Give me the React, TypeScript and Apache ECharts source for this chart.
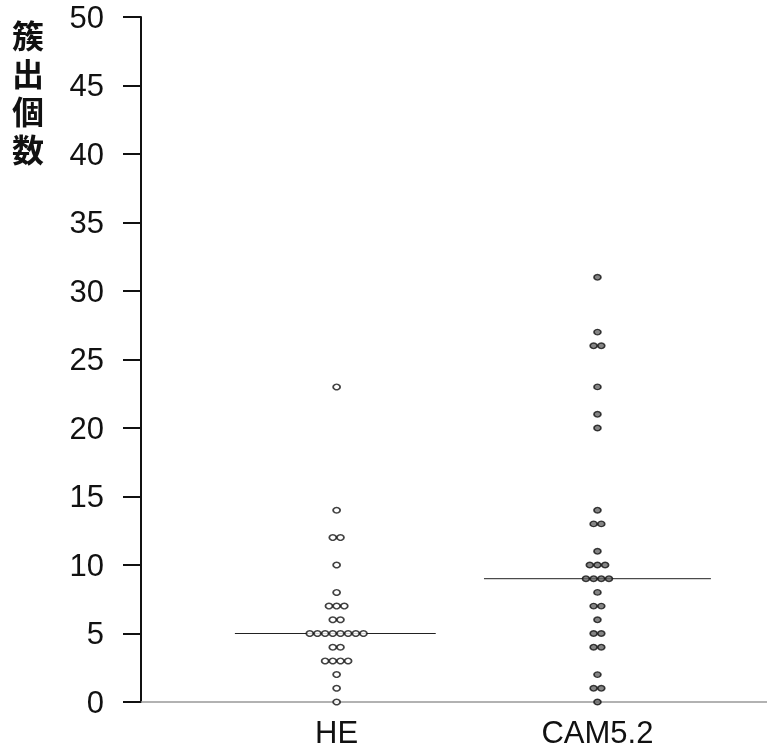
import React, { useEffect, useRef } from "react";
import * as echarts from "echarts";

const groupNames = ["HE", "CAM5.2"];
const heValues = [23, 14, 12, 12, 10, 8, 7, 7, 7, 6, 6, 5, 5, 5, 5, 5, 5, 5, 5, 4, 4, 3, 3, 3, 3, 2, 1, 0];
const camValues = [31, 27, 26, 26, 23, 21, 20, 14, 13, 13, 11, 10, 10, 10, 9, 9, 9, 9, 8, 7, 7, 6, 5, 5, 4, 4, 2, 1, 1, 0];
const yTicks = { min: 0, max: 50, interval: 5 };
const yTitleChars = ["簇", "出", "個", "数"];

function swarm(values: number[], center: number, step: number) {
  const counts: Record<number, number> = {};
  values.forEach((v) => (counts[v] = (counts[v] || 0) + 1));
  const pts: number[][] = [];
  Object.keys(counts).forEach((k) => {
    const v = Number(k);
    const n = counts[v];
    for (let i = 0; i < n; i++) pts.push([center + (i - (n - 1) / 2) * step, v]);
  });
  return pts;
}

function median(values: number[]) {
  const s = [...values].sort((a, b) => a - b);
  const m = Math.floor(s.length / 2);
  return s.length % 2 ? s[m] : (s[m - 1] + s[m]) / 2;
}

export default function App() {
  const ref = useRef<HTMLDivElement>(null);
  useEffect(() => {
    if (!ref.current) return;
    const chart = echarts.init(ref.current, null, { renderer: "svg" });
    const step = 0.0294;
    const heMed = median(heValues);
    const camMed = median(camValues);
    chart.setOption({
      animation: false,
      grid: { left: 141, right: 0, top: 17, bottom: 49, outerBoundsMode: "none" },
      xAxis: {
        type: "value",
        min: 0.25,
        max: 2.65,
        interval: 0.25,
        splitLine: { show: false },
        axisTick: { show: false },
        axisLine: { onZero: false, lineStyle: { color: "#999", width: 1.5 } },
        axisLabel: {
          margin: 15,
          fontSize: 31,
          color: "#111",
          fontFamily: "Liberation Sans, Arial, sans-serif",
          showMinLabel: true,
          showMaxLabel: false,
          formatter: (v: number) =>
            Math.abs(v - 1) < 1e-6 ? groupNames[0] : Math.abs(v - 2) < 1e-6 ? groupNames[1] : "",
        },
      },
      yAxis: {
        type: "value",
        min: yTicks.min,
        max: yTicks.max,
        interval: yTicks.interval,
        splitLine: { show: false },
        axisLine: { show: true, lineStyle: { color: "#111", width: 2 } },
        axisTick: { show: true, length: 18, lineStyle: { color: "#111", width: 2 } },
        axisLabel: {
          margin: 37,
          fontSize: 31,
          color: "#111",
          fontFamily: "Liberation Sans, Arial, sans-serif",
        },
      },
      graphic: yTitleChars.map((c, i) => ({
        type: "text",
        left: 12,
        top: 17 + i * 38,
        style: {
          text: c,
          font: "bold 32px 'Noto Sans CJK JP'",
          lineHeight: 34,
          fill: "#111",
        },
      })),
      series: [
        {
          type: "line",
          data: [[1 - 0.39, heMed], [1 + 0.38, heMed]],
          symbol: "none",
          lineStyle: { color: "#222", width: 1 },
          z: 1,
        },
        {
          type: "line",
          data: [[2 - 0.435, camMed], [2 + 0.435, camMed]],
          symbol: "none",
          lineStyle: { color: "#222", width: 1 },
          z: 1,
        },
        {
          type: "scatter",
          data: swarm(heValues, 1, step),
          symbol: "circle",
          symbolSize: [7, 5.5],
          itemStyle: { color: "#fff", borderColor: "#111", borderWidth: 1.6 },
          z: 3,
        },
        {
          type: "scatter",
          data: swarm(camValues, 2, step),
          symbol: "circle",
          symbolSize: [7, 5.5],
          itemStyle: { color: "#666", borderColor: "#111", borderWidth: 1.5 },
          z: 3,
        },
      ],
    });
    return () => chart.dispose();
  }, []);
  return <div ref={ref} style={{ position: "fixed", left: 0, top: 0, width: 767, height: 751 }} />;
}
